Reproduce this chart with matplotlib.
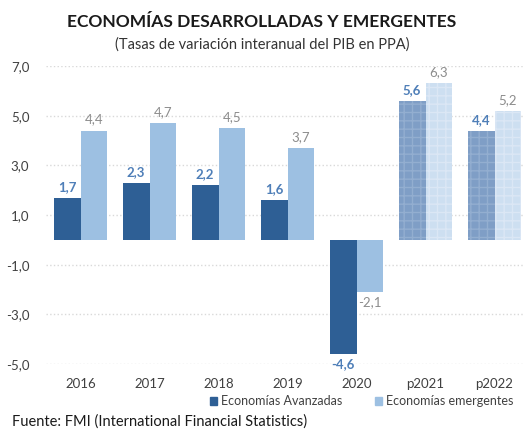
import numpy as np
import matplotlib.pyplot as plt
from matplotlib.patches import Patch

plt.rcParams['font.family'] = ['Lato', 'DejaVu Sans']

# --- datos ---
anios = ["2016", "2017", "2018", "2019", "2020", "p2021", "p2022"]
avanzadas = [1.7, 2.3, 2.2, 1.6, -4.6, 5.6, 4.4]
emergentes = [4.4, 4.7, 4.5, 3.7, -2.1, 6.3, 5.2]
prevision = [False, False, False, False, False, True, True]

c_osc = "#2e5f95"
c_cla = "#9dc0e2"
c_osc_p = "#7f9ec6"
c_cla_p = "#cddff1"

fig = plt.figure(figsize=(5.24, 4.32), dpi=100)
ax = fig.add_axes([46 / 524, 1 - 364 / 432, 478 / 524, 298 / 432])

x = np.arange(len(anios))
w = 0.39
for i in range(len(anios)):
    if prevision[i]:
        ax.bar(x[i] - w / 2, avanzadas[i], w, color=c_osc_p, hatch="++",
               edgecolor="#93aed0", linewidth=0, zorder=3)
        ax.bar(x[i] + w / 2, emergentes[i], w, color=c_cla_p, hatch="++",
               edgecolor="#dbe7f5", linewidth=0, zorder=3)
    else:
        ax.bar(x[i] - w / 2, avanzadas[i], w, color=c_osc, zorder=3)
        ax.bar(x[i] + w / 2, emergentes[i], w, color=c_cla, zorder=3)

# etiquetas de valores
for i in range(len(anios)):
    a = avanzadas[i]
    e = emergentes[i]
    ta = ("%.1f" % a).replace(".", ",")
    te = ("%.1f" % e).replace(".", ",")
    if a >= 0:
        ax.text(x[i] - w / 2, a + 0.2, ta, ha="center", va="bottom",
                color="#4f7fb8", fontsize=9.5, fontweight="bold")
    else:
        ax.text(x[i] - w / 2, a - 0.15, ta, ha="center", va="top",
                color="#4f7fb8", fontsize=9.5, fontweight="bold")
    if e >= 0:
        ax.text(x[i] + w / 2, e + 0.2, te, ha="center", va="bottom",
                color="#8c8c8c", fontsize=9.5)
    else:
        ax.text(x[i] + w / 2, e - 0.15, te, ha="center", va="top",
                color="#8c8c8c", fontsize=9.5)

ax.set_ylim(-5, 7)
ax.set_xlim(-0.5, -0.5 + 478 / 69)
ax.set_yticks([7, 5, 3, 1, -1, -3, -5])
ax.set_yticklabels(["7,0", "5,0", "3,0", "1,0", "-1,0", "-3,0", "-5,0"])
ax.set_xticks(x)
ax.set_xticklabels(anios)
ax.tick_params(axis="y", length=0, pad=12, labelsize=9.5, colors="#404040")
ax.tick_params(axis="x", length=0, pad=10, labelsize=9.5, colors="#404040")
for s in ax.spines.values():
    s.set_visible(False)
ax.grid(axis="y", color="#d9d9d9", linestyle=":", linewidth=1, zorder=0)

fig.text(0.5, 1 - 22 / 432, "ECONOMÍAS DESARROLLADAS Y EMERGENTES", ha="center",
         va="center", fontsize=12.5, fontweight="bold", color="#1a1a1a")
fig.text(0.5, 1 - 45 / 432, "(Tasas de variación interanual del PIB en PPA)",
         ha="center", va="center", fontsize=10.5, color="#333333")

handles = [Patch(color=c_osc), Patch(color=c_cla)]
fig.legend(handles, ["Economías Avanzadas", "Economías emergentes"],
           loc="center", bbox_to_anchor=(0.69, 1 - 401 / 432), ncol=2, frameon=False,
           fontsize=9, handlelength=0.6, handleheight=0.6, handletextpad=0.3,
           columnspacing=2.6, labelcolor="#404040")

fig.text(12 / 524, 1 - 422 / 432, "Fuente: FMI (International Financial Statistics)",
         ha="left", va="center", fontsize=10.5, color="#1a1a1a")

fig.savefig("out.png", dpi=100)
